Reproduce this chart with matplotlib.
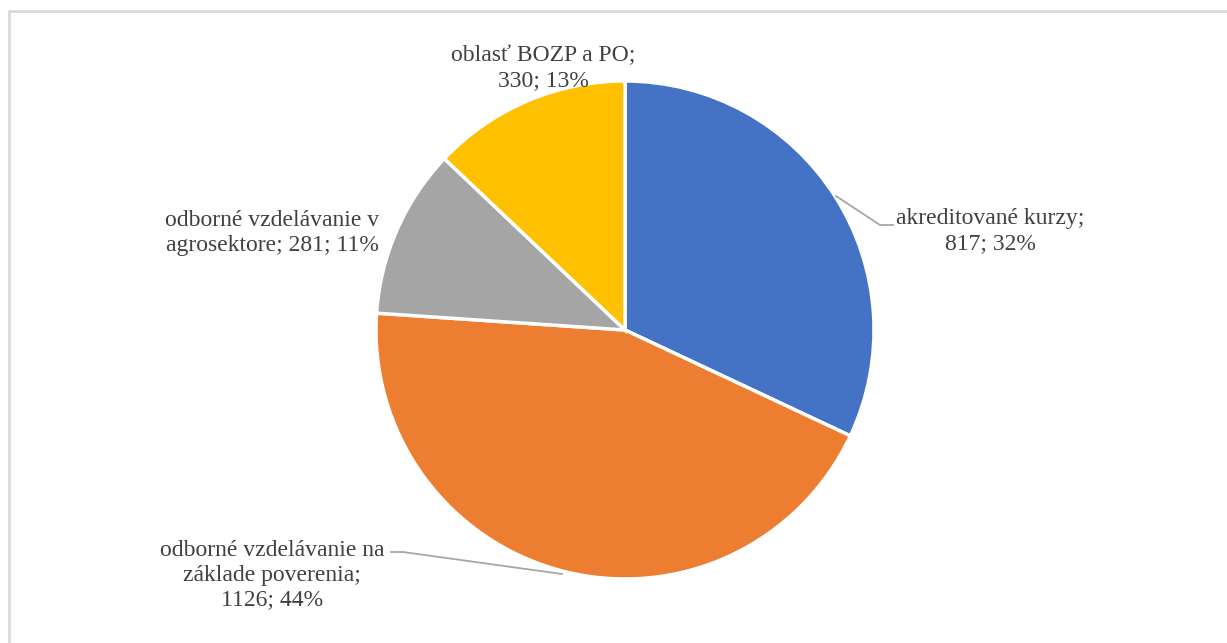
import matplotlib
matplotlib.use("Agg")
import matplotlib.pyplot as plt
from matplotlib.patches import Rectangle

labels = ["akreditované kurzy", "odborné vzdelávanie na\nzáklade poverenia",
          "odborné vzdelávanie v\nagrosektore", "oblasť BOZP a PO"]
values = [817, 1126, 281, 330]
percents = [32, 44, 11, 13]
colors = ["#4472C4", "#ED7D31", "#A5A5A5", "#FFC000"]

W, H = 1227, 643
fig = plt.figure(figsize=(W / 100, H / 100), dpi=100)
ax = fig.add_axes([0, 0, 1, 1])
ax.set_xlim(0, W)
ax.set_ylim(0, H)
ax.set_aspect("equal")
ax.axis("off")

# frame
ax.add_patch(Rectangle((9, -5), W + 10, H - 11 + 5, fill=False,
                       edgecolor="#D9D9D9", linewidth=2))

cx, cy, r = 625, H - 330, 249
ax.pie(values, colors=colors, startangle=90, counterclock=False,
       center=(cx, cy), radius=r, frame=True,
       wedgeprops=dict(edgecolor="white", linewidth=2.5))
ax.set_xlim(0, W)
ax.set_ylim(0, H)
ax.axis("off")

fs = 17
tc = "#404040"
font = dict(family="Liberation Serif", fontsize=fs, color=tc, ha="center",
            va="center", linespacing=1.22)

texts = [
    (990, H - 231, f"akreditované kurzy;\n{values[0]}; {percents[0]}%"),
    (272, H - 575, f"odborné vzdelávanie na\nzáklade poverenia;\n{values[1]}; {percents[1]}%"),
    (272, H - 233, f"odborné vzdelávanie v\nagrosektore; {values[2]}; {percents[2]}%"),
    (543, H - 68, f"oblasť BOZP a PO;\n{values[3]}; {percents[3]}%"),
]
for x, y, t in texts:
    ax.text(x, y, t, **font)

lc = "#A6A6A6"
ax.plot([836, 880, 893], [H - 196, H - 225, H - 225], color=lc, lw=1.3)
ax.plot([391, 403, 562], [H - 552, H - 552, H - 574], color=lc, lw=1.3)

fig.savefig("out.png", dpi=100)
